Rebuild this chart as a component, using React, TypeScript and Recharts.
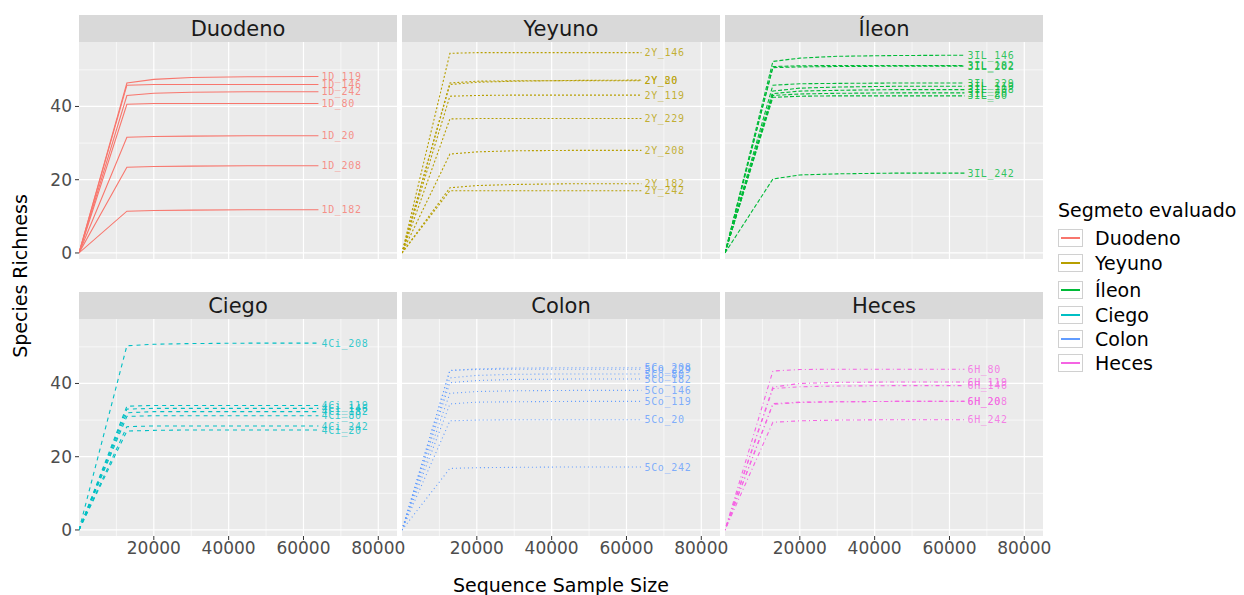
import React from 'react'
import { LineChart, Line, XAxis, YAxis, CartesianGrid, LabelList } from 'recharts'

// sequencing depths (x) shared by every rarefaction curve
const depths = [0, 12800, 20000, 30000, 45000, 64000]

const duodenoSamples = ['1D_119', '1D_146', '1D_242', '1D_80', '1D_20', '1D_208', '1D_182']
const duodenoRichness = [
  [0, 46.4, 47.4, 47.9, 48.1, 48.2],
  [0, 45.8, 46.0, 46.0, 46.0, 46.0],
  [0, 43.0, 43.6, 43.9, 44.0, 44.0],
  [0, 40.6, 40.8, 40.8, 40.8, 40.8],
  [0, 31.6, 31.8, 31.9, 32.0, 32.0],
  [0, 23.4, 23.6, 23.7, 23.8, 23.8],
  [0, 11.4, 11.6, 11.7, 11.8, 11.8],
]

const yeyunoSamples = ['2Y_146', '2Y_80', '2Y_20', '2Y_119', '2Y_229', '2Y_208', '2Y_182', '2Y_242']
const yeyunoRichness = [
  [0, 54.5, 54.7, 54.7, 54.7, 54.7],
  [0, 46.4, 46.9, 47.0, 47.0, 47.0],
  [0, 46.0, 46.6, 46.9, 47.1, 47.2],
  [0, 42.8, 43.0, 43.1, 43.1, 43.1],
  [0, 36.6, 36.7, 36.7, 36.7, 36.7],
  [0, 27.0, 27.6, 27.9, 28.0, 28.0],
  [0, 17.8, 18.4, 18.7, 18.9, 18.9],
  [0, 17.0, 17.0, 17.0, 17.0, 17.0],
]

const ileonSamples = ['3IL_146', '3IL_182', '3IL_202', '3IL_229', '3IL_119', '3IL_208', '3IL_20', '3IL_80', '3IL_242']
const ileonRichness = [
  [0, 52.3, 53.2, 53.7, 53.9, 54.0],
  [0, 50.9, 51.1, 51.2, 51.2, 51.2],
  [0, 50.6, 50.8, 50.9, 51.0, 51.0],
  [0, 45.8, 46.2, 46.3, 46.4, 46.4],
  [0, 44.2, 45.0, 45.3, 45.5, 45.5],
  [0, 43.5, 44.2, 44.4, 44.6, 44.6],
  [0, 43.0, 43.4, 43.6, 43.7, 43.7],
  [0, 42.5, 42.8, 42.9, 42.9, 42.9],
  [0, 20.2, 21.3, 21.6, 21.8, 21.8],
]

const ciegoSamples = ['4Ci_208', '4Ci_119', '4Ci_146', '4Ci_182', '4Ci_80', '4Ci_242', '4Ci_20']
const ciegoRichness = [
  [0, 50.3, 50.7, 50.9, 51.0, 51.0],
  [0, 33.8, 34.0, 34.0, 34.0, 34.0],
  [0, 33.0, 33.2, 33.2, 33.2, 33.2],
  [0, 32.0, 32.3, 32.3, 32.3, 32.3],
  [0, 31.0, 31.2, 31.2, 31.2, 31.2],
  [0, 28.2, 28.4, 28.4, 28.4, 28.4],
  [0, 27.0, 27.2, 27.3, 27.3, 27.3],
]

const colonSamples = ['5Co_208', '5Co_229', '5Co_80', '5Co_182', '5Co_146', '5Co_119', '5Co_20', '5Co_242']
const colonRichness = [
  [0, 43.5, 44.0, 44.2, 44.3, 44.3],
  [0, 43.6, 43.8, 43.9, 43.9, 43.9],
  [0, 41.5, 42.2, 42.5, 42.6, 42.6],
  [0, 40.2, 40.8, 41.1, 41.2, 41.2],
  [0, 37.3, 37.8, 38.0, 38.1, 38.1],
  [0, 34.4, 34.9, 35.0, 35.1, 35.1],
  [0, 29.8, 30.0, 30.1, 30.1, 30.1],
  [0, 16.8, 17.0, 17.1, 17.2, 17.2],
]

const hecesSamples = ['6H_80', '6H_119', '6H_146', '6H_208', '6H_20', '6H_242']
const hecesRichness = [
  [0, 43.4, 43.8, 43.9, 43.9, 43.9],
  [0, 39.0, 40.0, 40.3, 40.4, 40.4],
  [0, 38.6, 39.1, 39.3, 39.4, 39.4],
  [0, 34.5, 34.9, 35.0, 35.1, 35.1],
  [0, 34.3, 34.8, 35.0, 35.1, 35.1],
  [0, 29.4, 29.8, 30.0, 30.1, 30.1],
]

const segments = ['Duodeno', 'Yeyuno', 'Íleon', 'Ciego', 'Colon', 'Heces']
const segmentSamples = [duodenoSamples, yeyunoSamples, ileonSamples, ciegoSamples, colonSamples, hecesSamples]
const segmentRichness = [duodenoRichness, yeyunoRichness, ileonRichness, ciegoRichness, colonRichness, hecesRichness]

const xTicks = [20000, 40000, 60000, 80000]
const xMinor = [10000, 30000, 50000, 70000]
const yTicks = [0, 20, 40]
const yMinor = [10, 30, 50]

const colors = ['#F8766D', '#B79F00', '#00BA38', '#00BFC4', '#619CFF', '#F564E3']
const dashes = [undefined, '2 2', '4 2', '4 4', '1 3', '1 3 4 3']

const FONT = '"DejaVu Sans", sans-serif'
const colLeft = [79, 402, 725]
const rowTop = [42, 319]
const PW = 318
const PH = 217

function Panel({ idx }: { idx: number }) {
  const col = idx % 3
  const row = Math.floor(idx / 3)
  const showY = col === 0
  const showX = row === 1
  const yW = showY ? 79 : 0
  const xH = showX ? 34 : 0
  const color = colors[idx]
  const samples = segmentSamples[idx]
  const rich = segmentRichness[idx]

  const renderTag = (props: any) => {
    const { x, y, value } = props
    if (!value) return null
    return (
      <text x={Number(x) + 3} y={y} dy="0.36em" fill={color} fillOpacity={0.8}
        fontSize={10} letterSpacing={0.7} fontFamily='"DejaVu Sans Mono", monospace'>
        {value}
      </text>
    )
  }

  return (
    <>
      <div style={{
        position: 'absolute', left: colLeft[col], top: rowTop[row] - 27, width: PW, height: 27,
        background: '#D9D9D9', color: '#1A1A1A', fontFamily: FONT, fontSize: 21,
        display: 'flex', alignItems: 'center', justifyContent: 'center',
      }}>{segments[idx]}</div>
      <div style={{ position: 'absolute', left: colLeft[col] - yW, top: rowTop[row] }}>
        <LineChart width={PW + yW} height={PH + xH} margin={{ top: 0, right: 0, bottom: 0, left: 0 }}>
          <CartesianGrid fill="#EBEBEB" stroke="#FFFFFF" strokeWidth={0.6}
            horizontalValues={yMinor} verticalValues={xMinor} />
          <CartesianGrid stroke="#FFFFFF" strokeWidth={1.2}
            horizontalValues={yTicks} verticalValues={xTicks} />
          <XAxis type="number" dataKey="depth" domain={[0, 85000]} ticks={xTicks} allowDataOverflow
            hide={!showX} height={xH} axisLine={false} tickSize={4} tickMargin={2} interval={0}
            tickLine={{ stroke: '#333333' }}
            tick={{ fill: '#4D4D4D', fontSize: 17, fontFamily: FONT }} />
          <YAxis type="number" domain={[-1.65, 57.6]} ticks={yTicks} allowDataOverflow
            hide={!showY} width={yW} axisLine={false} tickSize={4} tickMargin={3} interval={0}
            tickLine={{ stroke: '#333333' }}
            tick={{ fill: '#4D4D4D', fontSize: 17, fontFamily: FONT }} />
          {samples.map((s, i) => (
            <Line key={s} type="linear"
              data={depths.map((d, j) => ({ depth: d, richness: rich[i][j], tag: j === depths.length - 1 ? s : '' }))}
              dataKey="richness" stroke={color} strokeWidth={1.1} strokeDasharray={dashes[idx]}
              dot={false} activeDot={false} isAnimationActive={false}>
              <LabelList dataKey="tag" content={renderTag} />
            </Line>
          ))}
        </LineChart>
      </div>
    </>
  )
}

const legendTops = [225, 250, 277, 302, 326, 350]

export default function App() {
  return (
    <div style={{ position: 'absolute', left: 0, top: 0, width: 1244, height: 595, background: '#FFFFFF', overflow: 'hidden' }}>
      <style>{'.recharts-surface { overflow: visible; }'}</style>
      {segments.map((_, i) => <Panel key={i} idx={i} />)}
      <div style={{
        position: 'absolute', left: 20, top: 275.5, transform: 'translate(-50%, -50%) rotate(-90deg)',
        fontFamily: FONT, fontSize: 19, color: '#000', whiteSpace: 'nowrap',
      }}>Species Richness</div>
      <div style={{
        position: 'absolute', left: 561, top: 585, transform: 'translate(-50%, -50%)',
        fontFamily: FONT, fontSize: 19, color: '#000', whiteSpace: 'nowrap',
      }}>Sequence Sample Size</div>
      <div style={{
        position: 'absolute', left: 1058, top: 198, fontFamily: FONT, fontSize: 19, color: '#000',
        whiteSpace: 'nowrap', lineHeight: '24px',
      }}>Segmeto evaluado</div>
      {segments.map((s, i) => (
        <div key={s} style={{ position: 'absolute', left: 1058, top: legendTops[i], height: 25, display: 'flex', alignItems: 'center' }}>
          <svg width={25} height={18}>
            <rect x={0.5} y={0.5} width={24} height={17} fill="#FFFFFF" stroke="#D0D0D0" />
            <line x1={3} x2={22} y1={9} y2={9} stroke={colors[i]} strokeWidth={2} />
          </svg>
          <span style={{ marginLeft: 12, fontFamily: FONT, fontSize: 19, color: '#000' }}>{s}</span>
        </div>
      ))}
    </div>
  )
}
